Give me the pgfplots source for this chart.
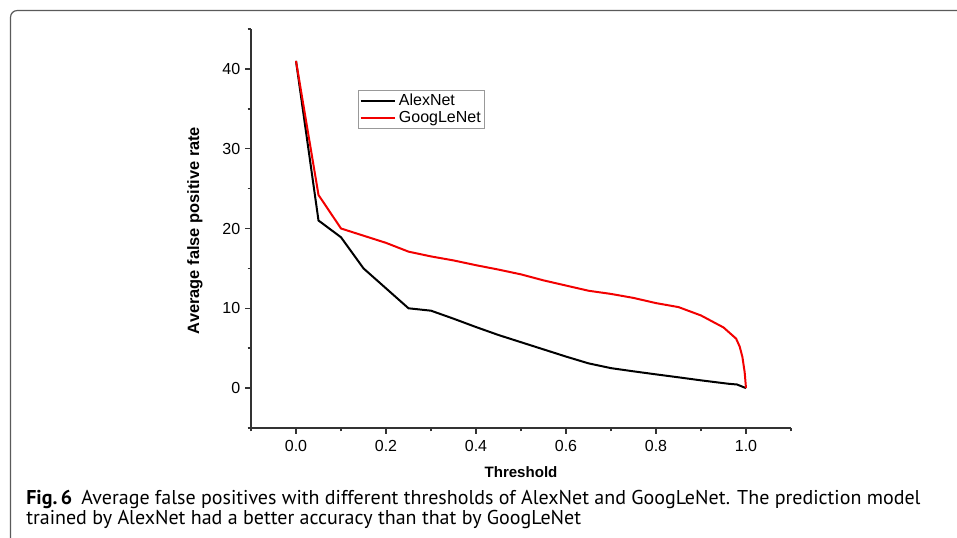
\documentclass[border=0pt]{standalone}
\usepackage{fontspec}
\setmainfont{Liberation Sans}
\newfontfamily\capfont{PT Sans}
\usepackage{pgfplots}
\pgfplotsset{compat=1.18}
\definecolor{axisgray}{HTML}{333333}
\definecolor{framegray}{HTML}{5A5A5A}
\definecolor{netred}{HTML}{F20000}

\begin{document}
\begin{tikzpicture}
% page = 957 x 538 px, 1 px = 0.75 pt
\useasboundingbox (0,0) rectangle (717.75pt,403.5pt);
\begin{scope}
\clip (0,0) rectangle (717.75pt,403.5pt);
\draw[framegray, line width=0.9pt, rounded corners=5pt]
  (7.9pt,-20pt) rectangle (740pt,395.6pt);
\end{scope}

\begin{axis}[
  at={(188.25pt,82.5pt)}, anchor=south west,
  scale only axis, width=405pt, height=299.25pt,
  xmin=-0.1, xmax=1.1, ymin=-5, ymax=45,
  axis lines*=left,
  axis line style={axisgray, line width=1.2pt},
  xtick={0,0.2,0.4,0.6,0.8,1.0},
  minor xtick={-0.1,0.1,0.3,0.5,0.7,0.9,1.1},
  ytick={0,10,20,30,40},
  minor ytick={-5,5,15,25,35,45},
  tick align=outside,
  major tick length=4.5pt, minor tick length=2.6pt,
  every tick/.style={axisgray, line width=1.1pt},
  /pgf/number format/assume math mode=true,
  ticklabel style={font=\fontsize{12}{14}\selectfont, black},
  xticklabel style={yshift=-1pt, /pgf/number format/fixed,
    /pgf/number format/fixed zerofill, /pgf/number format/precision=1},
  xlabel={Threshold}, ylabel={Average false positive rate},
  xlabel style={font=\fontsize{11.3}{13}\selectfont\bfseries,
    at={(axis description cs:0.5,-0.123)}, anchor=base},
  ylabel style={font=\fontsize{12.3}{14}\selectfont\bfseries,
    at={(axis description cs:-0.104,0.495)}, anchor=center},
  legend style={at={(axis description cs:0.198,0.847)}, anchor=north west,
    draw=gray!80, line width=0.5pt, font=\fontsize{12}{14}\selectfont,
    inner xsep=1pt, inner ysep=1pt, row sep=-1.5pt},
  legend cell align=left,
  legend image code/.code={\draw[#1] (0pt,0pt) -- (26pt,0pt);},
  clip=false,
]
\addplot[black, line width=1.5pt] coordinates {
  (0,41) (0.05,21.0) (0.1,18.9) (0.15,15.0) (0.2,12.5) (0.25,10.0)
  (0.3,9.7) (0.35,8.7) (0.4,7.65) (0.45,6.65) (0.5,5.75) (0.55,4.85)
  (0.6,3.95) (0.65,3.1) (0.7,2.5) (0.75,2.1) (0.8,1.72) (0.85,1.35)
  (0.9,0.97) (0.96,0.55) (0.98,0.45) (1.0,0)
};
\addplot[netred, line width=1.5pt] coordinates {
  (0,41) (0.05,24.2) (0.1,20.0) (0.15,19.1) (0.2,18.2) (0.25,17.1)
  (0.3,16.5) (0.35,16.0) (0.4,15.4) (0.45,14.85) (0.5,14.25) (0.55,13.5)
  (0.6,12.85) (0.65,12.2) (0.7,11.8) (0.75,11.3) (0.8,10.65) (0.85,10.15)
  (0.9,9.1) (0.95,7.6) (0.978,6.2) (0.986,5.2) (0.992,3.9) (0.997,2.0) (1.0,0)
};
\legend{AlexNet, GoogLeNet}
\end{axis}

\node[anchor=base west, inner sep=0pt, font=\capfont\fontsize{15}{17}\selectfont]
  at (19.5pt,24.75pt)
  {\textbf{Fig.\,6}\hspace{7pt}Average false positives with different thresholds of AlexNet and GoogLeNet. The prediction model};
\node[anchor=base west, inner sep=0pt, font=\capfont\fontsize{15}{17}\selectfont]
  at (19.5pt,9.75pt)
  {trained by AlexNet had a better accuracy than that by GoogLeNet};
\end{tikzpicture}
\end{document}
